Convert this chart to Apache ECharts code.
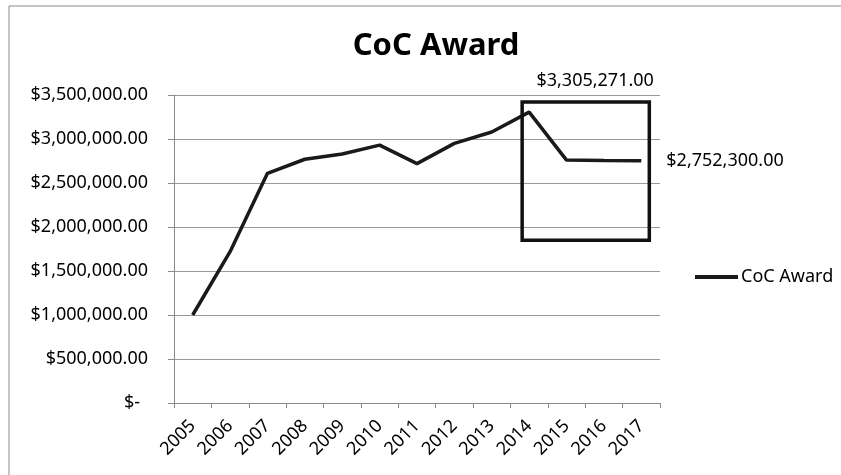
<!DOCTYPE html>
<html>
<head>
<meta charset="utf-8">
<title>CoC Award</title>
<script src="https://cdn.jsdelivr.net/npm/echarts@6/dist/echarts.min.js"></script>
<style>
  html, body { margin: 0; padding: 0; background: #fff; }
  #chart { width: 841px; height: 475px; }
</style>
</head>
<body>
<div id="chart"></div>
<script>
// Award years and amounts
const years = ['2005', '2006', '2007', '2008', '2009', '2010', '2011', '2012', '2013', '2014', '2015', '2016', '2017'];
const award = [1000000, 1720000, 2610000, 2770000, 2830000, 2930000, 2720000, 2950000, 3080000, 3305271, 2760000, 2755000, 2752300];
const yTicks = [0, 500000, 1000000, 1500000, 2000000, 2500000, 3000000, 3500000];

// Highlighted period (years and dollar range) outlined by a box
const boxYears = ['2014', '2017'];
const boxRange = [1850000, 3420000];

// Points whose amounts are printed on the chart
const peakIndex = 9;
const lastIndex = 12;

const FONT = '"Noto Sans", "Open Sans", sans-serif';

function money(v) {
  if (v === 0) return '{z|$-}';
  return '$' + v.toLocaleString('en-US', { minimumFractionDigits: 2, maximumFractionDigits: 2 });
}

const seriesData = award.map(function (v, i) {
  if (i === peakIndex) {
    return { value: v, label: { show: true, position: 'top', distance: 22, offset: [66, 0] } };
  }
  if (i === lastIndex) {
    return { value: v, label: { show: true, position: 'right', distance: 25 } };
  }
  return v;
});

const chart = echarts.init(document.getElementById('chart'), null, { renderer: 'canvas' });

chart.setOption({
  animation: false,
  backgroundColor: '#ffffff',
  textStyle: { fontFamily: FONT },
  title: {
    text: 'CoC Award',
    left: 431,
    top: 26,
    textAlign: 'center',
    textStyle: { fontFamily: FONT, fontSize: 31, fontWeight: 'bold', color: '#000' }
  },
  legend: {
    orient: 'vertical',
    left: 690,
    top: 263,
    icon: 'rect',
    itemWidth: 43,
    itemHeight: 4,
    itemGap: 4,
    textStyle: { fontFamily: FONT, fontSize: 18, color: '#000', padding: [0, 0, 0, -2] },
    data: [{ name: 'CoC Award', itemStyle: { color: '#1a1a1a' } }]
  },
  grid: { left: 174, right: 181, top: 95, bottom: 72 },
  xAxis: {
    type: 'category',
    data: years,
    boundaryGap: true,
    axisLine: { lineStyle: { color: '#8a8a8a', width: 1 } },
    axisTick: { show: true, length: 5, alignWithLabel: false, lineStyle: { color: '#8a8a8a' } },
    axisLabel: { interval: 0, rotate: 45, margin: 20, fontFamily: FONT, fontSize: 18, color: '#000' },
    splitLine: { show: false }
  },
  yAxis: {
    type: 'value',
    min: yTicks[0],
    max: yTicks[yTicks.length - 1],
    interval: yTicks[1] - yTicks[0],
    axisLine: { show: true, lineStyle: { color: '#8a8a8a', width: 1 } },
    axisTick: { show: true, length: 6, lineStyle: { color: '#8a8a8a' } },
    axisLabel: {
      margin: 26,
      fontFamily: FONT,
      fontSize: 18,
      color: '#000',
      formatter: money,
      rich: { z: { fontFamily: FONT, fontSize: 18, color: '#000', padding: [0, 8, 0, 0] } }
    },
    splitLine: { show: true, lineStyle: { color: '#9a9a9a', width: 1 } }
  },
  series: [{
    name: 'CoC Award',
    type: 'line',
    data: seriesData,
    showSymbol: true,
    symbol: 'circle',
    symbolSize: 0,
    lineStyle: { color: '#1a1a1a', width: 3.5 },
    itemStyle: { color: '#1a1a1a' },
    label: {
      show: false,
      fontFamily: FONT,
      fontSize: 18,
      color: '#000',
      formatter: function (p) { return money(p.value); }
    },
    z: 3
  }]
});

// Outline box around the highlighted period, placed via the chart's own scales
const pA = chart.convertToPixel({ gridIndex: 0 }, [boxYears[0], boxRange[1]]);
const pB = chart.convertToPixel({ gridIndex: 0 }, [boxYears[1], boxRange[0]]);
const pad = 7;

chart.setOption({
  graphic: [
    {
      type: 'rect',
      silent: true,
      shape: { x: 9, y: 6, width: 900, height: 600 },
      style: { fill: 'none', stroke: '#8a8a8a', lineWidth: 1 },
      z: 0
    },
    {
      type: 'rect',
      silent: true,
      shape: { x: pA[0] - pad, y: pA[1], width: (pB[0] + pad + 1) - (pA[0] - pad), height: pB[1] - pA[1] },
      style: { fill: 'none', stroke: '#111', lineWidth: 3.5 },
      z: 10
    }
  ]
});
</script>
</body>
</html>
